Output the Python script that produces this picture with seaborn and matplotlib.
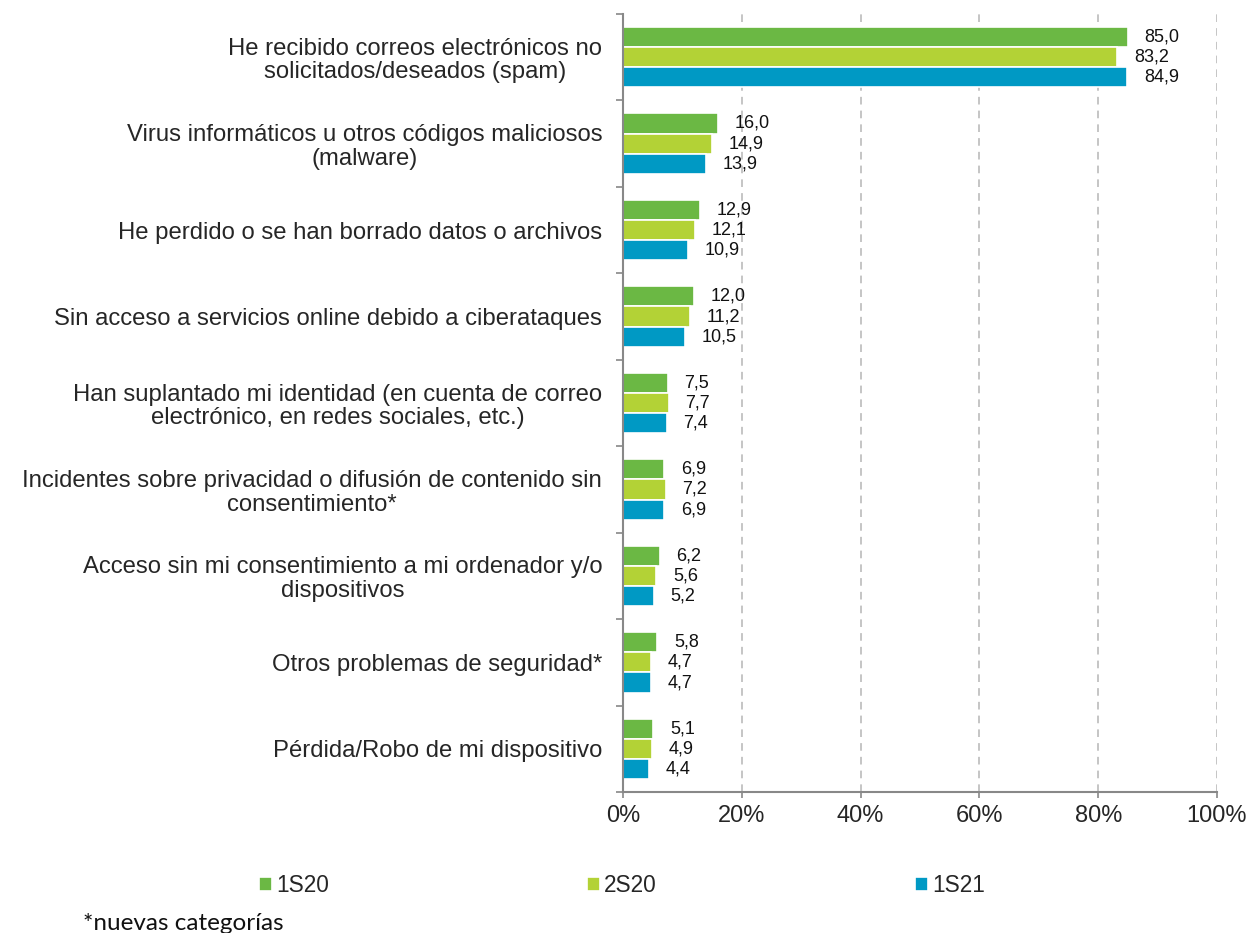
import matplotlib.pyplot as plt
import pandas as pd
import seaborn as sns

sns.set_theme(style="white")
plt.rcParams["font.family"] = ["Liberation Sans", "DejaVu Sans"]

CATEGORIES = [
    "He recibido correos electrónicos no\nsolicitados/deseados (spam)",
    "Virus informáticos u otros códigos maliciosos\n(malware)",
    "He perdido o se han borrado datos o archivos",
    "Sin acceso a servicios online debido a ciberataques",
    "Han suplantado mi identidad (en cuenta de correo\nelectrónico, en redes sociales, etc.)",
    "Incidentes sobre privacidad o difusión de contenido sin\nconsentimiento*",
    "Acceso sin mi consentimiento a mi ordenador y/o\ndispositivos",
    "Otros problemas de seguridad*",
    "Pérdida/Robo de mi dispositivo",
]
PERIODS = ["1S20", "2S20", "1S21"]
VALUES_1S20 = [85.0, 16.0, 12.9, 12.0, 7.5, 6.9, 6.2, 5.8, 5.1]
VALUES_2S20 = [83.2, 14.9, 12.1, 11.2, 7.7, 7.2, 5.6, 4.7, 4.9]
VALUES_1S21 = [84.9, 13.9, 10.9, 10.5, 7.4, 6.9, 5.2, 4.7, 4.4]
COLORS = ["#6BB844", "#B3D236", "#0099C4"]

rows = []
for period, vals in zip(PERIODS, [VALUES_1S20, VALUES_2S20, VALUES_1S21]):
    for cat, v in zip(CATEGORIES, vals):
        rows.append({"Categoria": cat, "Periodo": period, "Valor": v})
df = pd.DataFrame(rows)

fig = plt.figure(figsize=(12.5, 9.33), dpi=100)
ax = fig.add_axes([0.4984, 0.1511, 0.4752, 0.8339])

sns.barplot(data=df, y="Categoria", x="Valor", hue="Periodo", order=CATEGORIES,
            hue_order=PERIODS, palette=COLORS, saturation=1, orient="h", width=0.7,
            edgecolor="white", linewidth=1.2, ax=ax)

for container in ax.containers:
    labels = [f"{v:.1f}".replace(".", ",") for v in container.datavalues]
    ax.bar_label(container, labels=labels, padding=12, fontsize=13, color="#111111")

ax.set_xlim(0, 100)
ax.set_ylim(len(CATEGORIES) - 0.5, -0.5)
ax.set_xticks(range(0, 101, 20))
ax.set_xticklabels([f"{t}%" for t in range(0, 101, 20)], fontsize=17)
ax.xaxis.grid(True, linestyle=(0, (5, 4)), color="#B5B5B5", linewidth=1.1)
ax.set_axisbelow(True)
ax.set_xlabel("")
ax.set_ylabel("")

ax.set_yticks(range(len(CATEGORIES)))
ax.set_yticklabels(CATEGORIES, fontsize=17.2)
for lbl in ax.get_yticklabels():
    lbl.set_multialignment("center")
    lbl.set_linespacing(1.1)
ax.tick_params(axis="y", which="major", length=0, pad=15)
ax.set_yticks([i - 0.5 for i in range(len(CATEGORIES) + 1)], minor=True)
ax.tick_params(axis="y", which="minor", length=5, color="#888888", width=1.2, left=True)
ax.tick_params(axis="x", length=4, color="#888888", width=1.2, bottom=True, pad=5)

for side in ["top", "right"]:
    ax.spines[side].set_visible(False)
for side in ["left", "bottom"]:
    ax.spines[side].set_color("#888888")
    ax.spines[side].set_linewidth(1.5)

handles, labels = ax.get_legend_handles_labels()
ax.get_legend().remove()
fig.legend(handles, labels, loc="center left", bbox_to_anchor=(0.191, 0.0504), ncol=3,
           frameon=False, fontsize=16.3, handlelength=0.575, handleheight=0.575,
           handletextpad=0.18, columnspacing=11.4)

fig.text(0.0664, 0.00375, "*nuevas categorías", fontsize=17.5,
         family=["Lato", "DejaVu Sans"], color="#111111", va="baseline")

fig.savefig("out.png", dpi=100)
